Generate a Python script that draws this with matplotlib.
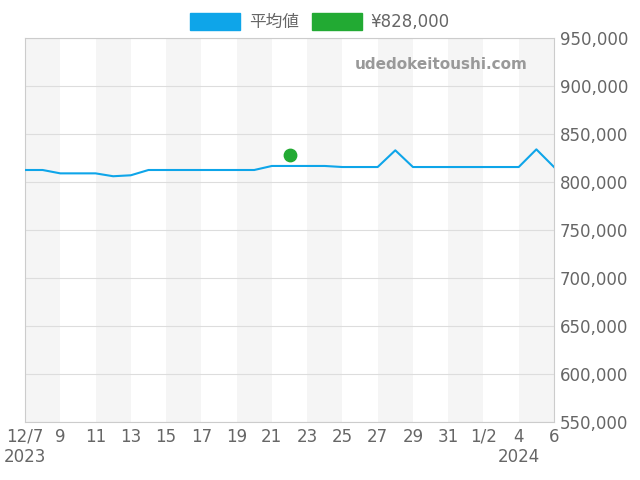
import matplotlib
matplotlib.use("Agg")
import matplotlib.pyplot as plt
import numpy as np

plt.rcParams['font.family'] = ['DejaVu Sans', 'Noto Sans CJK JP']

tick_labels = ["12/7\n2023","9","11","13","15","17","19","21","23","25","27","29","31","1/2","4\n2024","6"]
avg = [812500,812500,809000,809000,809000,806000,807000,812500,812500,812500,812500,812500,812500,812500,
       816700,816700,816700,816700,815600,815600,815600,833000,815600,815600,815600,815600,815600,815600,815600,834000,815600]
point_x = [15]
point_y = [828000]

fig = plt.figure(figsize=(6.4,4.8), dpi=100)
ax = fig.add_axes([25/640, 1-422/480, 529/640, 384/480])
x = np.arange(len(avg))
for s in range(0, 30, 4):
    ax.axvspan(s, s+2, color='#f5f5f5', zorder=0, lw=0)
ax.plot(x, avg, color='#0ea5e9', lw=1.5, zorder=3)
ax.scatter(point_x, point_y, color='#22aa33', s=80, zorder=4)
ax.set_xlim(0, 30)
ax.set_ylim(550000, 950000)
ax.set_xticks(np.arange(0, 31, 2))
ax.set_xticklabels(tick_labels, fontsize=12, color='#666666')
ax.yaxis.tick_right()
ax.set_yticks(np.arange(550000, 950001, 50000))
ax.set_yticklabels([f"{v:,}" for v in range(550000, 950001, 50000)], fontsize=12, color='#666666')
ax.grid(axis='y', color='#dddddd', lw=0.8)
ax.tick_params(length=0, pad=4)
for sp in ax.spines.values():
    sp.set_color('#cccccc')
ax.text(0.95, 0.93, "udedokeitoushi.com", transform=ax.transAxes, ha='right', va='center',
        fontsize=11, color='#999999', fontweight='bold')
from matplotlib.patches import Patch
fig.legend(handles=[Patch(color='#0ea5e9', label='平均値'), Patch(color='#22aa33', label='¥828,000')],
           loc='upper center', bbox_to_anchor=(0.5, 1.005), ncol=2, frameon=False, fontsize=12,
           handlelength=3, handleheight=1.2, handletextpad=0.5, columnspacing=0.8, labelcolor='#666666')
fig.savefig("out.png")
